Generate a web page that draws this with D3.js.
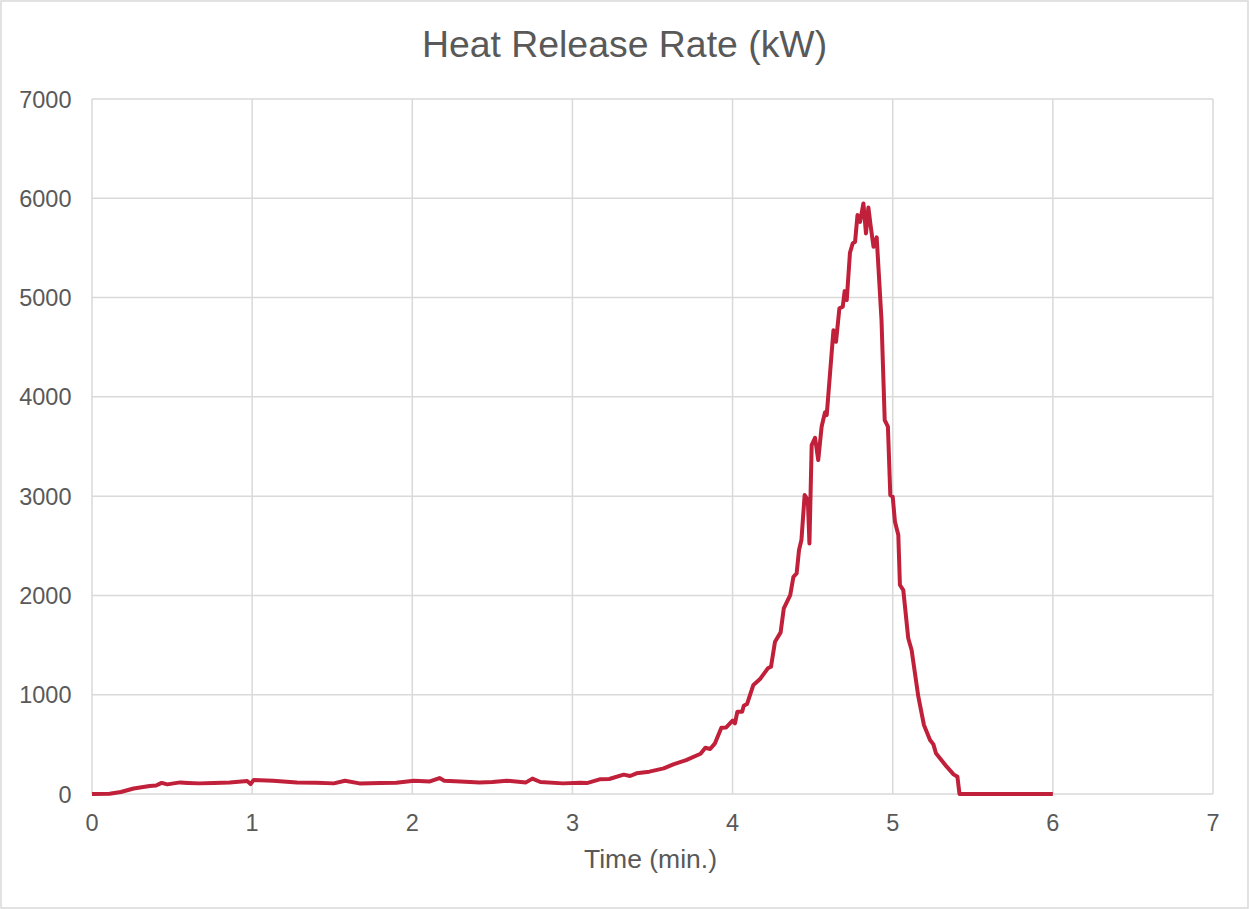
<!DOCTYPE html>
<html>
<head>
<meta charset="utf-8">
<script src="https://cdn.jsdelivr.net/npm/d3@7"></script>
<style>
	body { margin: 0; background: #fff; }
	text { font-family: "Liberation Sans", Arial, sans-serif; fill: #595959; }
</style>
</head>
<body>
<div id="chart"></div>
<script>
var time = [0, 0.11, 0.18, 0.26, 0.36, 0.40, 0.435, 0.47, 0.55, 0.60, 0.67, 0.76, 0.86, 0.97, 0.99, 1.01,
	1.13, 1.28, 1.40, 1.51, 1.58, 1.67, 1.80, 1.90, 2.01, 2.11, 2.17, 2.20, 2.30, 2.42, 2.50, 2.59,
	2.71, 2.75, 2.80, 2.94, 3.05, 3.09, 3.17, 3.23, 3.32, 3.36, 3.40, 3.48, 3.57, 3.63, 3.71, 3.80,
	3.83, 3.86, 3.89, 3.93, 3.96, 4.00, 4.015, 4.03, 4.06, 4.07, 4.09, 4.13, 4.17, 4.22, 4.24, 4.265,
	4.30, 4.32, 4.36, 4.38, 4.40, 4.415, 4.43, 4.45, 4.47, 4.48, 4.494, 4.515, 4.535, 4.556, 4.577,
	4.588, 4.63, 4.646, 4.667, 4.688, 4.70, 4.713, 4.733, 4.75, 4.765, 4.78, 4.796, 4.817, 4.833,
	4.848, 4.863, 4.88, 4.90, 4.93, 4.95, 4.97, 4.985, 5.00, 5.014, 5.035, 5.045, 5.066, 5.097,
	5.118, 5.16, 5.195, 5.233, 5.254, 5.27, 5.337, 5.38, 5.404, 5.417, 6.00];
var hrr = [0, 2, 20, 55, 80, 85, 112, 97, 117, 112, 107, 112, 117, 130, 100, 141,
	134, 117, 114, 107, 134, 107, 110, 114, 134, 127, 161, 134, 127, 117, 120, 134,
	117, 155, 121, 107, 114, 110, 148, 151, 195, 181, 208, 225, 258, 298, 342, 405,
	466, 453, 510, 668, 671, 738, 712, 829, 829, 889, 906, 1098, 1155, 1266, 1282, 1534,
	1628, 1870, 2004, 2188, 2222, 2457, 2558, 3011, 2960, 2524, 3514, 3588, 3363, 3699, 3844,
	3817, 4672, 4555, 4891, 4907, 5065, 4975, 5451, 5545, 5562, 5831, 5763, 5948, 5646,
	5908, 5713, 5512, 5606, 4773, 3766, 3699, 3010, 2994, 2742, 2608, 2105, 2054, 1568,
	1450, 980, 695, 544, 500, 410, 275, 198, 174, 0, 0];
var xTicks = [0, 1, 2, 3, 4, 5, 6, 7];
var yTicks = [0, 1000, 2000, 3000, 4000, 5000, 6000, 7000];

function init(){
	var w = 1249;
	var h = 909;
	var left = 92, right = 1213, top = 99, bottom = 794;

	var svg = d3.select("#chart")
				.append("svg")
				.attr("width", w)
				.attr("height", h);

	// outer chart border
	svg.append("rect")
		.attr("x", 1).attr("y", 1)
		.attr("width", w - 2).attr("height", h - 2)
		.attr("fill", "#fff")
		.attr("stroke", "#d9d9d9")
		.attr("stroke-width", 1.5);

	var x = d3.scaleLinear().domain([0, 7]).range([left, right]);
	var y = d3.scaleLinear().domain([0, 7000]).range([bottom, top]);

	// grid
	svg.append("g")
		.selectAll("line")
		.data(xTicks)
		.enter()
		.append("line")
		.attr("x1", function(d){ return x(d); })
		.attr("x2", function(d){ return x(d); })
		.attr("y1", top)
		.attr("y2", bottom)
		.attr("stroke", "#d9d9d9")
		.attr("stroke-width", 1.5);

	svg.append("g")
		.selectAll("line")
		.data(yTicks)
		.enter()
		.append("line")
		.attr("x1", left)
		.attr("x2", right)
		.attr("y1", function(d){ return y(d); })
		.attr("y2", function(d){ return y(d); })
		.attr("stroke", "#d9d9d9")
		.attr("stroke-width", 1.5);

	// tick labels
	svg.append("g")
		.selectAll("text")
		.data(yTicks)
		.enter()
		.append("text")
		.attr("x", 71.5)
		.attr("y", function(d){ return y(d) + 8.5; })
		.attr("text-anchor", "end")
		.style("font-size", "23.5px")
		.text(function(d){ return d; });

	svg.append("g")
		.selectAll("text")
		.data(xTicks)
		.enter()
		.append("text")
		.attr("x", function(d){ return x(d); })
		.attr("y", 831)
		.attr("text-anchor", "middle")
		.style("font-size", "23.5px")
		.text(function(d){ return d; });

	// line
	var line = d3.line()
		.x(function(d, i){ return x(time[i]); })
		.y(function(d){ return y(d); });

	svg.append("path")
		.datum(hrr)
		.attr("d", line)
		.attr("fill", "none")
		.attr("stroke", "#c0203a")
		.attr("stroke-width", 4)
		.attr("stroke-linejoin", "round");

	// titles
	svg.append("text")
		.attr("x", w / 2)
		.attr("y", 57)
		.attr("text-anchor", "middle")
		.style("font-size", "37.4px")
		.text("Heat Release Rate (kW)");

	svg.append("text")
		.attr("x", 650.5)
		.attr("y", 868)
		.attr("text-anchor", "middle")
		.style("font-size", "26.5px")
		.text("Time (min.)");
}

window.onload = init;
</script>
</body>
</html>
